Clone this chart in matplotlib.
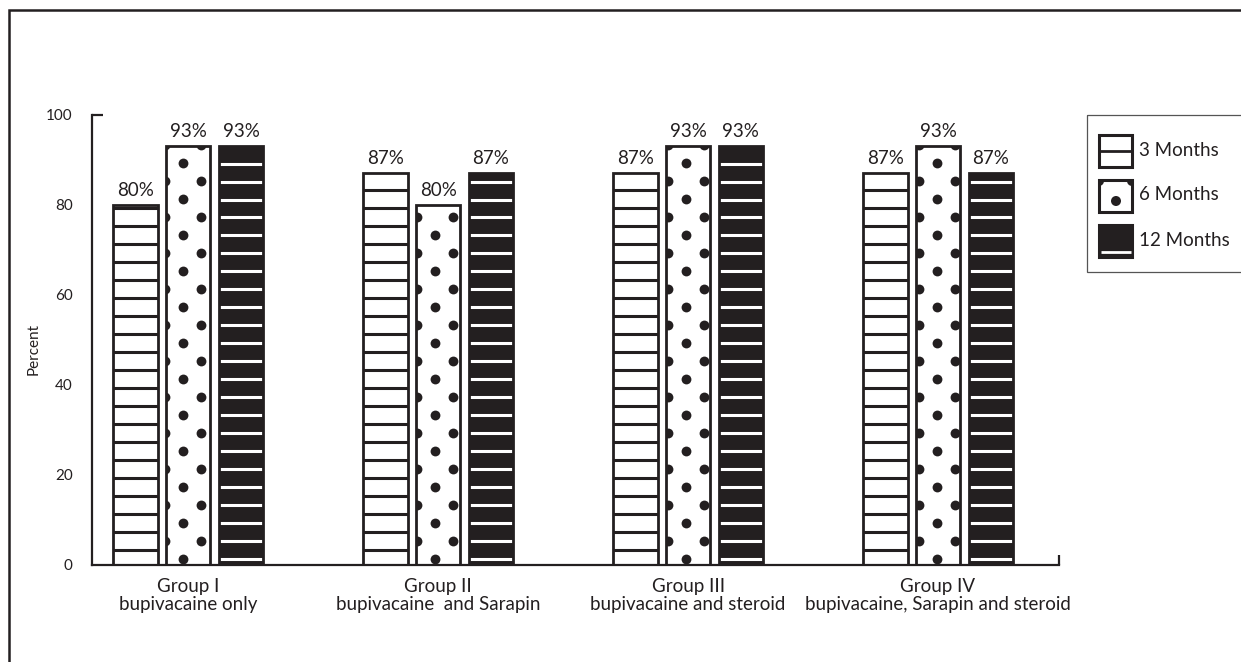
import matplotlib
matplotlib.use("Agg")
import matplotlib.pyplot as plt
from matplotlib.patches import Rectangle, Circle
import numpy as np

# ---------------- data ----------------
groups = ["Group I\nbupivacaine only",
          "Group II\nbupivacaine  and Sarapin",
          "Group III\nbupivacaine and steroid",
          "Group IV\nbupivacaine, Sarapin and steroid"]
series_names = ["3 Months", "6 Months", "12 Months"]
months_3 = [80, 87, 87, 87]
months_6 = [93, 80, 93, 93]
months_12 = [93, 87, 93, 87]
yticks = [0, 20, 40, 60, 80, 100]

# ---------------- style ----------------
INK = "#231f20"
plt.rcParams['font.family'] = ['Lato', 'DejaVu Sans']
W, H = 1241, 662
DPI = 100
fig = plt.figure(figsize=(W / DPI, H / DPI), dpi=DPI)
fig.patch.set_facecolor("white")

ax_l, ax_r, ax_t, ax_b = 92, 1059, 115, 564.5
ax = fig.add_axes([ax_l / W, (H - ax_b) / H, (ax_r - ax_l) / W, (ax_b - ax_t) / H])
ax.set_facecolor("none")

x = np.arange(len(groups))
bw = 0.178
step = 0.211
XMIN, XMAX = -0.385, 3.484
YMAX = 100


def add_bars(xpos, vals, face):
    bars = ax.bar(xpos, vals, bw, color=face, edgecolor="none", zorder=2)
    return bars


def outline(xpos, vals):
    ax.bar(xpos, vals, bw, fill=False, edgecolor=INK, linewidth=2.0, zorder=5)


# 3 Months: white with black horizontal stripes
b3 = add_bars(x - step, months_3, "white")
for rect, v in zip(b3, months_3):
    ys = np.arange(3.3, v, 4.0)
    lc = ax.hlines(ys, rect.get_x(), rect.get_x() + rect.get_width(),
                   colors=INK, linewidth=2.2, zorder=3)
    lc.set_clip_path(rect)
outline(x - step, months_3)

# 6 Months: white with staggered black dots
b6 = add_bars(x, months_6, "white")
period = 0.1436
for rect, v in zip(b6, months_6):
    x0, x1 = rect.get_x(), rect.get_x() + rect.get_width()
    pts_x, pts_y = [], []
    for xo, yo in ((-0.0196, 1.27), (-0.0196 + period / 2, 5.27)):
        n0 = int(np.floor((x0 - 0.03 - xo) / period))
        n1 = int(np.ceil((x1 + 0.03 - xo) / period))
        for n in range(n0, n1 + 1):
            xx = xo + n * period
            for yy in np.arange(yo, v + 2, 8.0):
                pts_x.append(xx)
                pts_y.append(yy)
    sc = ax.scatter(pts_x, pts_y, s=50, color=INK, linewidths=0, zorder=3)
    sc.set_clip_path(rect)
outline(x, months_6)

# 12 Months: black with white horizontal stripes
b12 = add_bars(x + step, months_12, INK)
for rect, v in zip(b12, months_12):
    ys = np.arange(1.2, v, 4.0)
    lc = ax.hlines(ys, rect.get_x(), rect.get_x() + rect.get_width(),
                   colors="white", linewidth=2.2, zorder=3)
    lc.set_clip_path(rect)
outline(x + step, months_12)

# value labels
for xs, vals in ((x - step, months_3), (x, months_6), (x + step, months_12)):
    for xi, v in zip(xs, vals):
        ax.annotate(f"{v}%", (xi, v), xytext=(0, 4.5), textcoords="offset points",
                    ha="center", va="bottom", fontsize=13.5, color=INK)

ax.set_xlim(XMIN, XMAX)
ax.set_ylim(0, YMAX)
ax.set_xticks(x)
ax.set_xticklabels(groups, fontsize=13.5, color=INK, linespacing=1.03)
ax.set_yticks(yticks)
ax.set_yticklabels([str(t) for t in yticks], fontsize=11, color=INK)
ax.tick_params(axis="both", length=0)
ax.tick_params(axis="x", pad=10)
ax.tick_params(axis="y", pad=14)
for s in ("top", "right"):
    ax.spines[s].set_visible(False)
for s in ("left", "bottom"):
    ax.spines[s].set_color(INK)
    ax.spines[s].set_linewidth(1.6)
ax.set_ylabel("Percent", fontsize=11, color=INK)
ax.yaxis.set_label_coords(-0.0527, 0.48)

# axis end caps
ax.plot([0, 11 / (ax_r - ax_l)], [1, 1], transform=ax.transAxes, color=INK,
        lw=1.6, clip_on=False, solid_capstyle="butt")
ax.plot([1, 1], [0, 10 / (ax_b - ax_t)], transform=ax.transAxes, color=INK,
        lw=1.6, clip_on=False, solid_capstyle="butt")

# ---------------- overlay: frame & legend (pixel coords) ----------------
ov = fig.add_axes([0, 0, 1, 1], zorder=10)
ov.set_xlim(0, W)
ov.set_ylim(H, 0)
ov.axis("off")
ov.plot([8.7, 8.7, W + 5], [H + 5, 10.3, 10.3], color=INK, lw=1.8,
        solid_joinstyle="miter")

ov.add_patch(Rectangle((1087, 115), 170, 157, fill=False, edgecolor="#555555", lw=0.9))
lx, lw_ = 1099, 33
# 3 months
r = Rectangle((lx, 134.5), lw_, 32, facecolor="white", edgecolor=INK, lw=2.2)
ov.add_patch(r)
ov.plot([lx, lx + lw_], [150.5, 150.5], color=INK, lw=2.0, solid_capstyle="butt")
# 6 months
r6 = Rectangle((lx, 179.5), lw_, 32.5, facecolor="white", edgecolor="none")
ov.add_patch(r6)
for cx, cy in ((1116, 201), (lx, 181), (lx + lw_, 181)):
    c = Circle((cx, cy), 5, color=INK, lw=0)
    ov.add_patch(c)
    c.set_clip_path(r6)
ov.add_patch(Rectangle((lx, 179.5), lw_, 32.5, fill=False, edgecolor=INK, lw=2.2))
# 12 months
ov.add_patch(Rectangle((lx, 224.5), lw_, 32.5, facecolor=INK, edgecolor=INK, lw=2.2))
ov.plot([lx + 1.5, lx + lw_ - 1.5], [251.5, 251.5], color="white", lw=2.0,
        solid_capstyle="butt")
for name, yy in zip(series_names, (150, 195, 240)):
    ov.text(1139, yy, name, fontsize=13.5, color=INK, va="center", ha="left")

fig.savefig("out.png", dpi=DPI, facecolor="white")
